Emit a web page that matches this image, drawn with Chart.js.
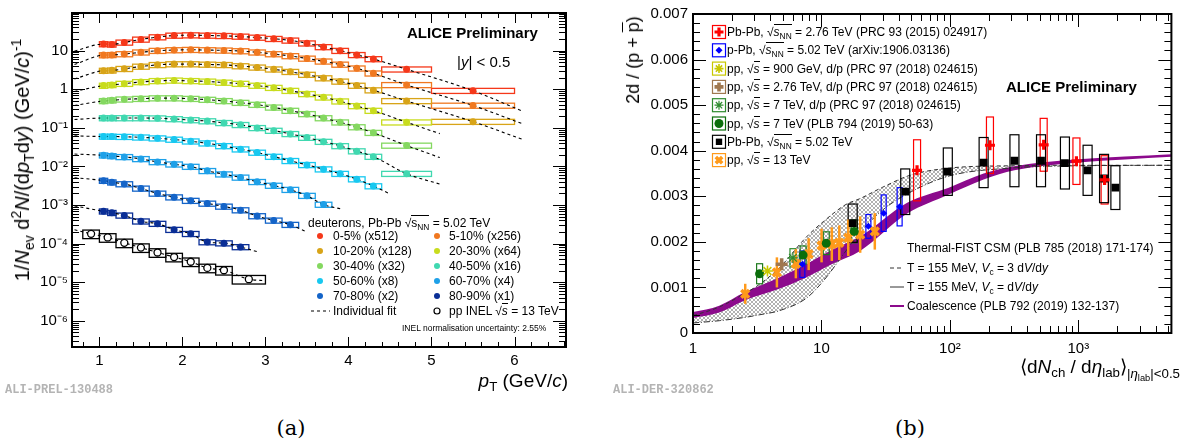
<!DOCTYPE html>
<html>
<head>
<meta charset="utf-8">
<script src="https://cdn.jsdelivr.net/npm/chart.js@4.4.1/dist/chart.umd.min.js"></script>
<style>
  body { margin: 0; width: 1181px; height: 444px; background: #fff; position: relative; overflow: hidden;
         font-family: "Liberation Sans", Arial, Helvetica, sans-serif; color: #000; }
  .pane { position: absolute; top: 0; height: 400px; }
  .t { position: absolute; white-space: nowrap; transform: translateY(-50%); line-height: 1; }
  .r { transform: translate(-100%, -50%); }
  .c { transform: translate(-50%, -50%); }
  .rot { transform: translate(-50%, -50%) rotate(-90deg); }
  sub, sup { font-size: 70%; line-height: 0; }
  sub { vertical-align: -0.35em; }
  sup { vertical-align: 0.6em; }
  .ov { border-top: 1px solid #000; }
  .leg { font-size: 12px; }
  .id { font-family: "Liberation Mono", "DejaVu Sans Mono", monospace; font-weight: bold; font-size: 12px; color: #b4b4b4; }
  .cap { font-family: "DejaVu Serif", "Liberation Serif", serif; font-size: 21px; }
</style>
</head>
<body>
<div class="pane" style="left:0;width:600px"><canvas id="spectra"></canvas></div>
<div class="pane" style="left:590px;width:591px"><canvas id="ratio"></canvas></div>

<!-- left panel texts -->
<div class="t rot" style="left:22px;top:160px;font-size:20px">1/<i>N</i><sub>ev</sub> d<sup>2</sup><i>N</i>/(d<i>p</i><sub>T</sub>d<i>y</i>) (GeV/<i>c</i>)<sup>-1</sup></div>
<div class="t r" style="left:568px;top:380px;font-size:19px"><i>p</i><sub>T</sub> (GeV/<i>c</i>)</div>
<div class="t" style="left:407px;top:32px;font-size:15px;font-weight:bold">ALICE Preliminary</div>
<div class="t" style="left:457px;top:61px;font-size:15px">|<i>y</i>| &lt; 0.5</div>
<div class="t leg" style="left:308px;top:223px">deuterons, Pb-Pb √<span class="ov"><span>s</span><sub>NN</sub></span> = 5.02 TeV</div>
<div class="t leg" style="left:333px;top:236px">0-5% (x512)</div>
<div class="t leg" style="left:449px;top:236px">5-10% (x256)</div>
<div class="t leg" style="left:333px;top:251px">10-20% (x128)</div>
<div class="t leg" style="left:449px;top:251px">20-30% (x64)</div>
<div class="t leg" style="left:333px;top:266px">30-40% (x32)</div>
<div class="t leg" style="left:449px;top:266px">40-50% (x16)</div>
<div class="t leg" style="left:333px;top:281px">50-60% (x8)</div>
<div class="t leg" style="left:449px;top:281px">60-70% (x4)</div>
<div class="t leg" style="left:333px;top:296px">70-80% (x2)</div>
<div class="t leg" style="left:449px;top:296px">80-90% (x1)</div>
<div class="t leg" style="left:333px;top:311px">Individual fit</div>
<div class="t leg" style="left:449px;top:311px">pp INEL √<span class="ov"><i>s</i></span> = 13 TeV</div>
<div class="t" style="left:402px;top:328px;font-size:8.5px">INEL normalisation uncertainty: 2.55%</div>
<div class="t id" style="left:5px;top:390px">ALI-PREL-130488</div>
<div class="t cap c" style="left:291px;top:428px">(a)</div>

<!-- right panel texts -->
<div class="t rot" style="left:633px;top:60px;font-size:18px">2d / (p + <span style="text-decoration:overline">p</span>)</div>
<div class="t r" style="left:1180px;top:367px;font-size:19px">⟨d<i>N</i><sub>ch</sub> / d<i>η</i><sub>lab</sub>⟩<sub>|<i>η</i><sub>lab</sub>|&lt;0.5</sub></div>
<div class="t" style="left:1006px;top:86px;font-size:15px;font-weight:bold">ALICE Preliminary</div>
<div class="t leg" style="left:727px;top:32px">Pb-Pb, √<span class="ov"><i>s</i><sub>NN</sub></span> = 2.76 TeV (PRC 93 (2015) 024917)</div>
<div class="t leg" style="left:727px;top:50px">p-Pb, √<span class="ov"><i>s</i><sub>NN</sub></span> = 5.02 TeV (arXiv:1906.03136)</div>
<div class="t leg" style="left:727px;top:69px">pp, √<span class="ov"><i>s</i></span> = 900 GeV, d/p (PRC 97 (2018) 024615)</div>
<div class="t leg" style="left:727px;top:87px">pp, √<span class="ov"><i>s</i></span> = 2.76 TeV, d/p (PRC 97 (2018) 024615)</div>
<div class="t leg" style="left:727px;top:105px">pp, √<span class="ov"><i>s</i></span> = 7 TeV, d/p (PRC 97 (2018) 024615)</div>
<div class="t leg" style="left:727px;top:124px">pp, √<span class="ov"><i>s</i></span> = 7 TeV (PLB 794 (2019) 50-63)</div>
<div class="t leg" style="left:727px;top:142px">Pb-Pb, √<span class="ov"><i>s</i><sub>NN</sub></span> = 5.02 TeV</div>
<div class="t leg" style="left:727px;top:160px">pp, √<span class="ov"><i>s</i></span> = 13 TeV</div>
<div class="t leg" style="left:907px;top:248px">Thermal-FIST CSM (PLB 785 (2018) 171-174)</div>
<div class="t leg" style="left:907px;top:268px">T = 155 MeV, <i>V</i><sub>c</sub> = 3 d<i>V</i>/d<i>y</i></div>
<div class="t leg" style="left:907px;top:287px">T = 155 MeV, <i>V</i><sub>c</sub> = d<i>V</i>/d<i>y</i></div>
<div class="t leg" style="left:907px;top:306px">Coalescence (PLB 792 (2019) 132-137)</div>
<div class="t id" style="left:613px;top:390px">ALI-DER-320862</div>
<div class="t cap c" style="left:910px;top:428px">(b)</div>

<script>
// ---------- panel (a): deuteron pT spectra ----------
const pbEdges = [1.0, 1.1, 1.2, 1.4, 1.6, 1.8, 2.0, 2.2, 2.4, 2.6, 2.8, 3.0, 3.2, 3.4, 3.6, 3.8, 4.0, 4.2, 4.4, 5.0, 6.0];
const ppEdges = [0.8, 1.0, 1.2, 1.4, 1.6, 1.8, 2.0, 2.2, 2.4, 2.6, 3.0];

const d0_5   = [14.9, 14.6, 16.4, 19.6, 22.5, 24.8, 25.3, 24.8, 24.3, 23.4, 22.0, 20.4, 18.5, 15.6, 12.5, 10.0, 7.8, 6.1, 3.3, 0.92];
const d5_10  = [7.7, 7.8, 8.2, 9.1, 10.0, 10.4, 10.6, 10.4, 10.2, 9.8, 9.1, 8.2, 7.3, 6.3, 5.3, 4.4, 3.5, 2.6, 1.3, 0.38];
const d10_20 = [3.05, 3.1, 3.4, 3.9, 4.3, 4.5, 4.5, 4.4, 4.3, 4.0, 3.7, 3.3, 2.85, 2.4, 1.95, 1.6, 1.25, 0.95, 0.5, 0.145];
const d20_30 = [1.25, 1.3, 1.4, 1.55, 1.65, 1.7, 1.65, 1.6, 1.5, 1.4, 1.25, 1.1, 0.92, 0.76, 0.62, 0.49, 0.37, 0.28, 0.14];
const d30_40 = [0.5, 0.52, 0.55, 0.57, 0.59, 0.59, 0.57, 0.54, 0.5, 0.45, 0.4, 0.34, 0.28, 0.23, 0.18, 0.14, 0.105, 0.075, 0.035];
const d40_50 = [0.18, 0.18, 0.18, 0.18, 0.178, 0.17, 0.16, 0.15, 0.135, 0.12, 0.1, 0.085, 0.07, 0.056, 0.044, 0.034, 0.025, 0.018, 0.0065];
const d50_60 = [0.06, 0.06, 0.059, 0.057, 0.054, 0.05, 0.045, 0.04, 0.034, 0.028, 0.023, 0.018, 0.014, 0.011, 0.0085, 0.0065, 0.0047, 0.0031];
const d60_70 = [0.0195, 0.0187, 0.0177, 0.0157, 0.0131, 0.0114, 0.0099, 0.0077, 0.0063, 0.0052, 0.004, 0.0032, 0.0025, 0.00175, 0.00103];
const d70_80 = [0.0043, 0.0039, 0.0035, 0.0027, 0.002, 0.0016, 0.0013, 0.0011, 0.00092, 0.00074, 0.00052, 0.0004, 0.00031];
const d80_90 = [0.00069, 0.00063, 0.00054, 0.00038, 0.00033, 0.00023, 0.00018, 0.00011, 0.000103, 0.000082];
const ppINEL = [1.8e-4, 1.45e-4, 1.05e-4, 7.9e-5, 5.9e-5, 4.5e-5, 3.4e-5, 2.35e-5, 2.05e-5, 1.2e-5];

// individual fits: value at the left edge and where the dashed curve stops
const fitStartX = 0.7;
const fitStartY = [9.8, 4.4, 1.86, 0.88, 0.38, 0.165, 0.062, 0.021, 0.0051, 0.00095, 0.00023];
const fitEndX   = [6.1, 6.1, 6.1, 5.1, 5.1, 5.1, 4.5, 3.9, 3.5, 2.9, 3.0];
const fitEndY   = [0.27, 0.127, 0.05, 0.071, 0.017, 0.0035, 0.00195, 0.0008, 0.0002, 6.2e-5, 1.1e-5];

const relSysPbPb = 0.15;
const relSysPP = 0.25;

const spectraTicksY = [1e-6, 1e-5, 1e-4, 1e-3, 1e-2, 1e-1, 1, 10];
const spectraTicksX = [1, 2, 3, 4, 5, 6];

const specColors = ['#f5381a', '#f07820', '#d8a418', '#c8dc1e', '#84d860', '#40d8b0',
                    '#18c8f0', '#1ea0e8', '#1464c8', '#0a2e96', '#000000'];
const spectra = [d0_5, d5_10, d10_20, d20_30, d30_40, d40_50, d50_60, d60_70, d70_80, d80_90, ppINEL];

// ---------- panel (b): d/p ratio vs multiplicity ----------
const pbpb276X = [55.5, 205, 537, 966, 1601];
const pbpb276Y = [0.00357, 0.00412, 0.00413, 0.00377, 0.00336];
const pbpb276Sys = [0.00067, 0.00062, 0.00058, 0.00051, 0.00053];

const ppb502X = [7.1, 23.2, 30.5, 40.6];
const ppb502Y = [0.00151, 0.00234, 0.00263, 0.00277];
const ppb502Sys = [0.00029, 0.00026, 0.0004, 0.00042];

const pp900X = [3.8];
const pp900Y = [0.00136];

const pp276X = [4.9];
const pp276Y = [0.00151];

const pp7dpX = [6.0];
const pp7dpY = [0.00165];
const pp7dpSys = [0.0002];

const pp7X = [3.3, 7.2, 10.9, 18.0];
const pp7Y = [0.0013, 0.00171, 0.00197, 0.00223];
const pp7Sys = [0.00022, 0.0002, 0.00025, 0.00025];

const pbpb502X = [17.5, 44.9, 96.3, 183, 318, 512, 786, 1180, 1585, 1942];
const pbpb502Y = [0.00241, 0.0031, 0.00354, 0.00374, 0.00378, 0.00378, 0.00373, 0.00357, 0.00339, 0.00319];
const pbpb502Sys = [0.00042, 0.0005, 0.00052, 0.00055, 0.00057, 0.00057, 0.00057, 0.00055, 0.00053, 0.00048];

const pp13X = [2.55, 4.5, 6.32, 7.95, 10.02, 12.04, 13.77, 16.17, 20.02, 26.02];
const pp13Y = [0.00086, 0.00133, 0.00152, 0.00173, 0.00192, 0.00195, 0.00198, 0.00209, 0.00216, 0.00223];
const pp13Err = [0.00022, 0.00033, 0.00032, 0.00035, 0.00037, 0.00037, 0.00038, 0.0004, 0.0004, 0.0004];

// Thermal-FIST CSM band
const csmX     = [1, 1.6, 2.5, 3.3, 4.7, 7.6, 10.4, 15.5, 20, 30, 50, 100, 300, 1000, 5300];
const csm3dVdy = [0.00038, 0.00057, 0.00086, 0.00107, 0.00143, 0.0021, 0.00245, 0.00282, 0.00295, 0.0032, 0.00347, 0.00362, 0.00367, 0.00368, 0.00368];
const csm1dVdy = [0.00022, 0.00027, 0.00034, 0.0004, 0.00049, 0.00076, 0.00115, 0.0018, 0.0022, 0.0027, 0.0031, 0.00345, 0.00362, 0.00367, 0.00368];

// coalescence band
const coalX    = [1, 1.6, 2.5, 4.7, 7.6, 12, 20, 46.5, 98, 183, 318, 1000, 5300];
const coalHigh = [0.00046, 0.0006, 0.00089, 0.00122, 0.00151, 0.00182, 0.00212, 0.00286, 0.00319, 0.0035, 0.00366, 0.00381, 0.00392];
const coalLow  = [0.00033, 0.00045, 0.00071, 0.00097, 0.00122, 0.00151, 0.0018, 0.00262, 0.00304, 0.00337, 0.00357, 0.00374, 0.00387];

const ratioTicksX = [1, 10, 100, 1000];
const ratioTicksY = [0, 0.001, 0.002, 0.003, 0.004, 0.005, 0.006, 0.007];

// ---------- helpers ----------
Chart.defaults.font.family = '"Liberation Sans", Arial, Helvetica, sans-serif';
Chart.defaults.color = '#000';

const pts = (xs, ys) => xs.map((x, i) => ({ x, y: ys[i] }));
const SUP = { '-': '⁻', '0': '⁰', '1': '¹', '2': '²', '3': '³', '4': '⁴', '5': '⁵', '6': '⁶', '7': '⁷' };
const pow10 = e => e === 0 ? '1' : e === 1 ? '10' : '10' + String(e).split('').map(c => SUP[c]).join('');

function line(ctx, x0, y0, x1, y1) {
    ctx.beginPath(); ctx.moveTo(x0, y0); ctx.lineTo(x1, y1); ctx.stroke();
}

// ROOT-like frame with ticks pointing inwards on all four sides
function makeFrame(cfg) {
    return {
        id: 'frame',
        afterDraw(chart) {
            const { ctx, chartArea: a } = chart;
            const xs = chart.scales.x, ys = chart.scales.y;
            ctx.save();
            ctx.strokeStyle = '#000';
            ctx.lineWidth = 1;
            const xt = (vals, len) => vals.forEach(v => {
                const p = Math.round(xs.getPixelForValue(v)) + 0.5;
                line(ctx, p, a.bottom, p, a.bottom - len);
                line(ctx, p, a.top, p, a.top + len);
            });
            const yt = (vals, len) => vals.forEach(v => {
                const p = Math.round(ys.getPixelForValue(v)) + 0.5;
                line(ctx, a.left, p, a.left + len, p);
                line(ctx, a.right, p, a.right - len, p);
            });
            xt(cfg.xMajor, cfg.xLen[0]); xt(cfg.xMinor, cfg.xLen[1]);
            yt(cfg.yMajor, cfg.yLen[0]); yt(cfg.yMinor, cfg.yLen[1]);
            ctx.lineWidth = 2;
            ctx.strokeRect(a.left, a.top, a.right - a.left, a.bottom - a.top);
            ctx.restore();
        }
    };
}

function fixedScale(size, key) {
    return s => { s[key] = size; };
}

// ---------- chart (a) ----------
const specDatasets = [];
spectra.forEach((vals, i) => {
    const edges = i === 10 ? ppEdges : pbEdges;
    const p = vals.map((v, k) => ({ x: (edges[k] + edges[k + 1]) / 2, y: v }));
    specDatasets.push({
        data: [{ x: fitStartX, y: fitStartY[i] }, ...p, { x: fitEndX[i], y: fitEndY[i] }],
        borderColor: '#000', borderWidth: 1.1, borderDash: [3, 3], pointRadius: 0,
        cubicInterpolationMode: 'monotone', fill: false, order: 2
    });
    specDatasets.push({
        data: p, showLine: false, order: 0,
        pointRadius: 3.5, pointStyle: 'circle',
        pointBackgroundColor: i === 10 ? '#fff' : specColors[i],
        pointBorderColor: specColors[i], pointBorderWidth: i === 10 ? 1.3 : 0
    });
});

const specBoxes = {
    id: 'specBoxes',
    beforeDatasetsDraw(chart) {
        const { ctx } = chart;
        const xs = chart.scales.x, ys = chart.scales.y;
        ctx.save();
        spectra.forEach((vals, i) => {
            const edges = i === 10 ? ppEdges : pbEdges;
            const s = i === 10 ? relSysPP : relSysPbPb;
            ctx.strokeStyle = specColors[i];
            ctx.lineWidth = 1.3;
            vals.forEach((v, k) => {
                const x0 = xs.getPixelForValue(edges[k]), x1 = xs.getPixelForValue(edges[k + 1]);
                const y0 = ys.getPixelForValue(v * (1 + s)), y1 = ys.getPixelForValue(v * (1 - s));
                ctx.strokeRect(x0, y0, x1 - x0, y1 - y0);
            });
        });
        ctx.restore();
    },
    afterDraw(chart) {
        // legend symbols
        const ctx = chart.ctx;
        ctx.save();
        for (let i = 0; i < 10; i++) {
            ctx.fillStyle = specColors[i];
            ctx.beginPath();
            ctx.arc(i % 2 ? 437 : 320, 236 + 15 * Math.floor(i / 2), 3, 0, Math.PI * 2);
            ctx.fill();
        }
        ctx.strokeStyle = '#000';
        ctx.lineWidth = 1.1;
        ctx.setLineDash([3, 3]);
        line(ctx, 311, 311, 330, 311);
        ctx.setLineDash([]);
        ctx.lineWidth = 1.2;
        ctx.beginPath(); ctx.arc(437, 311, 3, 0, Math.PI * 2); ctx.stroke();
        ctx.restore();
    }
};

const specMinorX = [], specMinorY = [];
for (let k = 4; k <= 33; k++) if (k % 5) specMinorX.push(k / 5);
for (let e = -7; e <= 1; e++) for (let m = 2; m <= 9; m++) {
    const v = m * Math.pow(10, e);
    if (v > 2.1e-7 && v < 95) specMinorY.push(v);
}

new Chart(document.getElementById('spectra'), {
    type: 'line',
    data: { datasets: specDatasets },
    options: {
        responsive: true, maintainAspectRatio: false, animation: false,
        layout: { padding: { left: 0, right: 34, top: 11, bottom: 0 } },
        plugins: { legend: { display: false }, tooltip: { enabled: false } },
        scales: {
            x: {
                type: 'linear', min: 0.67, max: 6.62,
                grid: { display: false, drawTicks: false }, border: { display: false },
                afterBuildTicks: s => { s.ticks = spectraTicksX.map(v => ({ value: v })); },
                afterFit: fixedScale(53, 'height'),
                ticks: { autoSkip: false, maxRotation: 0, padding: 5, font: { size: 15 }, callback: v => String(v) }
            },
            y: {
                type: 'logarithmic', min: 2.1e-7, max: 95,
                grid: { display: false, drawTicks: false }, border: { display: false },
                afterBuildTicks: s => { s.ticks = spectraTicksY.map(v => ({ value: v })); },
                afterFit: fixedScale(72, 'width'),
                ticks: { autoSkip: false, padding: 4, font: { size: 15 }, callback: v => pow10(Math.round(Math.log10(v))) }
            }
        }
    },
    plugins: [specBoxes, makeFrame({
        xMajor: spectraTicksX, xMinor: specMinorX, xLen: [10, 5],
        yMajor: spectraTicksY, yMinor: specMinorY, yLen: [13, 7]
    })]
});

// ---------- chart (b) ----------
const ratioCanvas = document.getElementById('ratio');
function hatch() {
    const c = document.createElement('canvas');
    c.width = 4; c.height = 4;
    const g = c.getContext('2d');
    g.fillStyle = '#ffffff';
    g.fillRect(0, 0, 4, 4);
    g.strokeStyle = '#a8a8a8';
    g.lineWidth = 0.9;
    g.beginPath();
    g.moveTo(0, 0); g.lineTo(4, 4);
    g.moveTo(4, 0); g.lineTo(0, 4);
    g.stroke();
    return ratioCanvas.getContext('2d').createPattern(c, 'repeat');
}

const purple = '#8c0a8c';
const markerSets = [
    { x: pbpb276X, y: pbpb276Y, style: 'cross', r: 5, bw: 3.2, color: '#ff0000', fill: '#ff0000' },
    { x: ppb502X, y: ppb502Y, style: 'rectRot', r: 3.5, bw: 0, color: '#0000ff', fill: '#0000ff' },
    { x: pp900X, y: pp900Y, style: 'star', r: 5.5, bw: 1.6, color: '#c8c800', fill: '#c8c800' },
    { x: pp276X, y: pp276Y, style: 'cross', r: 6, bw: 3.6, color: '#a07850', fill: '#a07850' },
    { x: pp7dpX, y: pp7dpY, style: 'star', r: 5.5, bw: 1.2, color: '#2e8b2e', fill: '#2e8b2e' },
    { x: pp7X, y: pp7Y, style: 'circle', r: 4.5, bw: 0, color: '#0b6e0b', fill: '#0b6e0b' },
    { x: pbpb502X, y: pbpb502Y, style: 'rect', r: 5.5, bw: 0, color: '#000000', fill: '#000000' },
    { x: pp13X, y: pp13Y, style: 'crossRot', r: 5.5, bw: 3.6, color: '#ff9a1a', fill: '#ff9a1a' }
];

const ratioDatasets = [
    // gray cross-hatched CSM band
    { data: pts(csmX, csm3dVdy), fill: '+1', backgroundColor: hatch(), borderWidth: 0, pointRadius: 0, order: 10, cubicInterpolationMode: 'monotone' },
    { data: pts(csmX, csm1dVdy), fill: false, borderWidth: 0, pointRadius: 0, order: 10, cubicInterpolationMode: 'monotone' },
    // coalescence band
    { data: pts(coalX, coalHigh), fill: '+1', backgroundColor: purple, borderWidth: 0, pointRadius: 0, order: 8, cubicInterpolationMode: 'monotone' },
    { data: pts(coalX, coalLow), fill: false, borderWidth: 0, pointRadius: 0, order: 8, cubicInterpolationMode: 'monotone' },
    // CSM boundary curves
    { data: pts(csmX, csm3dVdy), fill: false, borderColor: '#333', borderWidth: 1, borderDash: [4, 3], pointRadius: 0, order: 4, cubicInterpolationMode: 'monotone', boxesAfter: true },
    { data: pts(csmX, csm1dVdy), fill: false, borderColor: '#333', borderWidth: 1, borderDash: [6, 2, 1, 2], pointRadius: 0, order: 4, cubicInterpolationMode: 'monotone' }
];
markerSets.forEach(m => ratioDatasets.push({
    data: pts(m.x, m.y), showLine: false, order: 0,
    pointStyle: m.style, pointRadius: m.r, pointBorderWidth: m.bw,
    pointBorderColor: m.color, pointBackgroundColor: m.fill
}));

const sysSets = [
    { x: pbpb276X, y: pbpb276Y, s: pbpb276Sys, w: 7, color: '#ff0000' },
    { x: ppb502X, y: ppb502Y, s: ppb502Sys, w: 5, color: '#0000ff' },
    { x: pp7dpX, y: pp7dpY, s: pp7dpSys, w: 6, color: '#2e8b2e' },
    { x: pp7X, y: pp7Y, s: pp7Sys, w: 6, color: '#1e7b1e' },
    { x: pbpb502X, y: pbpb502Y, s: pbpb502Sys, w: 9, color: '#000000' }
];

const ratioExtras = {
    id: 'ratioExtras',
    afterDatasetDraw(chart, args) {
        if (!chart.data.datasets[args.index].boxesAfter) return;
        const { ctx } = chart;
        const xs = chart.scales.x, ys = chart.scales.y;
        ctx.save();
        ctx.lineWidth = 1.2;
        sysSets.forEach(set => {
            ctx.strokeStyle = set.color;
            set.x.forEach((xv, i) => {
                const px = xs.getPixelForValue(xv);
                const y0 = ys.getPixelForValue(set.y[i] + set.s[i]);
                const y1 = ys.getPixelForValue(set.y[i] - set.s[i]);
                ctx.strokeRect(px - set.w / 2, y0, set.w, y1 - y0);
            });
        });
        ctx.strokeStyle = '#ff9a1a';
        ctx.lineWidth = 2.5;
        pp13X.forEach((xv, i) => {
            const px = xs.getPixelForValue(xv);
            line(ctx, px, ys.getPixelForValue(pp13Y[i] + pp13Err[i]), px, ys.getPixelForValue(pp13Y[i] - pp13Err[i]));
        });
        ctx.restore();
    },
    afterDraw(chart) {
        // legend symbols
        const ctx = chart.ctx;
        ctx.save();
        markerSets.forEach((m, i) => {
            const cy = 32 + 18.3 * i, cx = 129;
            ctx.strokeStyle = m.color;
            ctx.lineWidth = 1.2;
            ctx.strokeRect(cx - 6.5, cy - 6.5, 13, 13);
            ctx.fillStyle = m.fill;
            ctx.lineWidth = m.bw || 1;
            Chart.helpers.drawPoint(ctx, { pointStyle: m.style, radius: Math.min(m.r, 4.5), borderWidth: m.bw, rotation: 0 }, cx, cy);
        });
        ctx.lineWidth = 1;
        ctx.strokeStyle = '#333';
        ctx.setLineDash([4, 3]);
        line(ctx, 300, 268, 314, 268);
        ctx.setLineDash([]);
        line(ctx, 300, 287, 314, 287);
        ctx.strokeStyle = purple;
        ctx.lineWidth = 2;
        line(ctx, 300, 306, 314, 306);
        ctx.restore();
    }
};

const ratioMinorX = [], ratioMinorY = [];
for (let e = 0; e <= 3; e++) for (let m = 2; m <= 9; m++) {
    const v = m * Math.pow(10, e);
    if (v < 5300) ratioMinorX.push(v);
}
for (let k = 1; k < 35; k++) if (k % 5) ratioMinorY.push(k * 0.0002);

const xLabel = { 1: '1', 10: '10', 100: '10²', 1000: '10³' };

new Chart(ratioCanvas, {
    type: 'line',
    data: { datasets: ratioDatasets },
    options: {
        responsive: true, maintainAspectRatio: false, animation: false,
        layout: { padding: { left: 0, right: 7, top: 11, bottom: 0 } },
        plugins: { legend: { display: false }, tooltip: { enabled: false } },
        scales: {
            x: {
                type: 'logarithmic', min: 1, max: 5300,
                grid: { display: false, drawTicks: false }, border: { display: false },
                afterBuildTicks: s => { s.ticks = ratioTicksX.map(v => ({ value: v })); },
                afterFit: fixedScale(67, 'height'),
                ticks: { autoSkip: false, maxRotation: 0, padding: 7, font: { size: 15 }, callback: v => xLabel[v] }
            },
            y: {
                type: 'linear', min: 0, max: 0.007,
                grid: { display: false, drawTicks: false }, border: { display: false },
                afterBuildTicks: s => { s.ticks = ratioTicksY.map(v => ({ value: v })); },
                afterFit: fixedScale(103, 'width'),
                ticks: { autoSkip: false, padding: 5, font: { size: 15 }, callback: v => v === 0 ? '0' : v.toFixed(3) }
            }
        }
    },
    plugins: [ratioExtras, makeFrame({
        xMajor: ratioTicksX, xMinor: ratioMinorX, xLen: [13, 7],
        yMajor: ratioTicksY, yMinor: ratioMinorY, yLen: [13, 7]
    })]
});
</script>
</body>
</html>
